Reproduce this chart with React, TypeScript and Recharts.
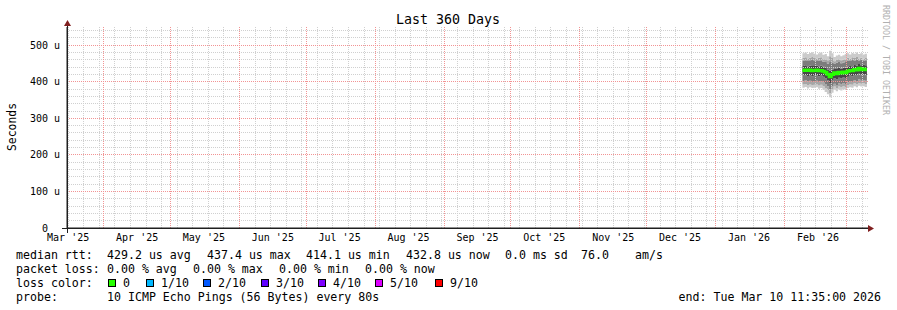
import React from 'react';
import { ComposedChart, Area, Line, XAxis, YAxis, ReferenceLine } from 'recharts';

// one point per day (stepAfter), last point only closes the final step
const days = [
  '2026-02-09', '2026-02-10', '2026-02-11', '2026-02-12', '2026-02-13', '2026-02-14',
  '2026-02-15', '2026-02-16', '2026-02-17', '2026-02-18', '2026-02-19', '2026-02-20',
  '2026-02-21', '2026-02-22', '2026-02-23', '2026-02-24', '2026-02-25', '2026-02-26',
  '2026-02-27', '2026-02-28', '2026-03-01', '2026-03-02', '2026-03-03', '2026-03-04',
  '2026-03-05', '2026-03-06', '2026-03-07', '2026-03-08', '2026-03-09', '2026-03-10',
];

// median rtt in microseconds
const median = [
  431, 432, 431, 432, 430, 431, 432, 430, 431, 429, 426, 421, 414.1, 420, 425,
  422, 426, 424, 427, 425, 429, 431, 430, 434, 432, 437.4, 433, 435, 432.8, 432.8,
];

// smoke band edges, outermost (min/max ping) to innermost
const lo1 = [384, 386, 382, 385, 383, 384, 385, 381, 383, 378, 372, 366, 358, 370, 378, 374, 379, 376, 380, 378, 383, 385, 384, 388, 385, 389, 387, 388, 386, 386];
const lo2 = [393, 394, 391, 393, 391, 392, 393, 390, 392, 388, 383, 377, 369, 379, 387, 383, 387, 385, 388, 386, 391, 393, 392, 396, 394, 397, 395, 396, 394, 394];
const lo3 = [402, 404, 401, 403, 400, 402, 403, 400, 402, 398, 394, 388, 380, 388, 395, 391, 396, 393, 397, 394, 399, 402, 400, 404, 402, 407, 403, 405, 403, 403];
const lo4 = [417, 418, 416, 418, 415, 417, 418, 415, 417, 414, 410, 404, 396, 404, 410, 407, 411, 409, 412, 410, 414, 417, 415, 419, 417, 422, 418, 420, 418, 418];
const hi4 = [443, 445, 442, 444, 443, 443, 444, 442, 444, 441, 438, 434, 430, 434, 437, 435, 438, 436, 439, 438, 442, 443, 442, 446, 444, 449, 445, 447, 445, 445];
const hi3 = [458, 459, 457, 459, 460, 458, 457, 458, 459, 455, 454, 450, 456, 453, 450, 452, 454, 451, 453, 456, 458, 457, 460, 458, 462, 458, 460, 457, 459, 459];
const hi2 = [466, 467, 464, 466, 468, 465, 463, 466, 467, 462, 462, 459, 470, 465, 456, 460, 462, 459, 461, 464, 466, 463, 467, 465, 468, 464, 466, 463, 465, 465];
const hi1 = [478, 480, 476, 479, 481, 477, 475, 478, 480, 474, 476, 470, 485, 478, 468, 472, 474, 470, 473, 476, 478, 475, 479, 477, 480, 476, 478, 475, 477, 477];

const monthLabels = ["Mar '25", "Apr '25", "May '25", "Jun '25", "Jul '25", "Aug '25", "Sep '25", "Oct '25", "Nov '25", "Dec '25", "Jan '26", "Feb '26"];
const monthLabelDays = ['2025-03-16', '2025-04-16', '2025-05-16', '2025-06-16', '2025-07-16', '2025-08-16', '2025-09-16', '2025-10-16', '2025-11-16', '2025-12-16', '2026-01-16', '2026-02-16'];
const monthStarts = ['2025-04-01', '2025-05-01', '2025-06-01', '2025-07-01', '2025-08-01', '2025-09-01', '2025-10-01', '2025-11-01', '2025-12-01', '2026-01-01', '2026-02-01', '2026-03-01'];
const yTicks = [0, 100, 200, 300, 400, 500];

const lossLabels = ['0', '1/10', '2/10', '3/10', '4/10', '5/10', '9/10'];
const lossColors = ['#26ff00', '#00b8ff', '#0059ff', '#5e00ff', '#7e00ff', '#dd00ff', '#ff0000'];

const ts = (d: string) => Date.parse(d + 'T00:00:00Z');
const START = Date.UTC(2025, 2, 15, 11, 35);
const END = Date.UTC(2026, 2, 10, 11, 35);
const DAY = 86400000;

// smoke is stacked like smokeping does it: invisible base, then one layer per band edge
const edges = [lo1, lo2, lo3, lo4, hi4, hi3, hi2, hi1];
const data = days.map((d, i) => {
  const row: Record<string, number> = { t: ts(d), median: median[i], s0: lo1[i] };
  for (let k = 1; k < edges.length; k++) row['s' + k] = edges[k][i] - edges[k - 1][i];
  return row;
});

const labelTicks = monthLabelDays.map(ts);
const labelFor = new Map(labelTicks.map((t, i) => [t, monthLabels[i]]));

// minor grid: one line a week (sundays)
const weekLines: number[] = [];
for (let t = Date.UTC(2025, 2, 16); t < END; t += 7 * DAY) weekLines.push(t);
const minorY: number[] = [];
for (let v = 20; v <= 540; v += 20) if (v % 100 !== 0) minorY.push(v);

const MONO = "'DejaVu Sans Mono', monospace";
const minorGrid = { stroke: '#d0d0d0', strokeDasharray: '1 1', shapeRendering: 'crispEdges' };
const majorGrid = { stroke: '#f29494', strokeDasharray: '1 1', shapeRendering: 'crispEdges' };
// colour of each stacked layer s1..s7 (outer light, centre dark)
const SMOKE = ['#cbcbcb', '#a6a6a6', '#7c7c7c', '#464646', '#7c7c7c', '#a6a6a6', '#cbcbcb'];

const XTick = (props: any) => {
  const { x, y, payload } = props;
  return (
    <text x={x} y={y} dy="0.71em" textAnchor="middle" fontFamily={MONO} fontSize={10} fill="#000">
      {labelFor.get(payload.value) ?? ''}
    </text>
  );
};

const YTick = (props: any) => {
  const { x, y, payload } = props;
  const v = payload.value;
  return (
    <text x={x} y={y} dy={3.5} dx={v === 0 ? -12 : 0} textAnchor="end" fontFamily={MONO} fontSize={10} fill="#000">
      {v === 0 ? '0' : `${v} u`}
    </text>
  );
};

const row1 = [
  [16, 'median rtt:'], [107, '429.2 us avg'], [207, '437.4 us max'], [306, '414.1 us min'],
  [406, '432.8 us now'], [505, '0.0 ms sd'], [581, '76.0'], [635, 'am/s'],
] as const;
const row2 = [
  [16, 'packet loss:'], [107, '0.00 % avg'], [193, '0.00 % max'], [279, '0.00 % min'], [365, '0.00 % now'],
] as const;
const lossX = [108, 146, 203, 261, 318, 375, 435];

export default function App() {
  return (
    <div style={{ position: 'absolute', left: 0, top: 0, width: 897, height: 310, background: '#fff' }}>
      <ComposedChart
        width={897}
        height={250}
        data={data}
        margin={{ top: 27, right: 29, left: 10, bottom: 2 }}
      >
        <XAxis
          dataKey="t"
          type="number"
          domain={[START, END]}
          ticks={labelTicks}
          interval={0}
          tick={<XTick />}
          tickLine={false}
          tickSize={4}
          tickMargin={2}
          axisLine={{ stroke: '#1f1f1f' }}
          height={20}
          allowDataOverflow
        />
        <YAxis
          type="number"
          domain={[0, 550]}
          ticks={yTicks}
          interval={0}
          tick={<YTick />}
          tickLine={false}
          tickSize={0}
          tickMargin={7}
          axisLine={{ stroke: '#1f1f1f' }}
          width={57}
          allowDataOverflow
        />
        <Area dataKey="s0" stackId="smoke" type="stepAfter" stroke="none" fill="none" isAnimationActive={false} />
        {SMOKE.map((c, k) => (
          <Area
            key={'s' + (k + 1)}
            dataKey={'s' + (k + 1)}
            stackId="smoke"
            type="stepAfter"
            stroke="none"
            fill={c}
            fillOpacity={1}
            isAnimationActive={false}
          />
        ))}
        {weekLines.map((t) => (
          <ReferenceLine key={'w' + t} x={t} {...minorGrid} />
        ))}
        {minorY.map((v) => (
          <ReferenceLine key={'y' + v} y={v} {...minorGrid} />
        ))}
        {monthStarts.map((d) => (
          <ReferenceLine key={'m' + d} x={ts(d)} {...majorGrid} />
        ))}
        {yTicks.filter((v) => v > 0).map((v) => (
          <ReferenceLine key={'Y' + v} y={v} {...majorGrid} />
        ))}
        <Line
          dataKey="median"
          type="stepAfter"
          stroke={lossColors[0]}
          strokeWidth={3}
          dot={false}
          isAnimationActive={false}
        />
      </ComposedChart>

      <svg width={897} height={310} style={{ position: 'absolute', left: 0, top: 0, pointerEvents: 'none' }}>
        <text x={448} y={23.5} textAnchor="middle" fontFamily={MONO} fontSize={13.3} fill="#000">
          Last 360 Days
        </text>
        <text transform="translate(15.5,127) rotate(-90)" textAnchor="middle" fontFamily={MONO} fontSize={11.4} fill="#000">
          Seconds
        </text>
        <text transform="translate(883,5) rotate(90)" fontFamily={MONO} fontSize={8.3} fill="#b0b0b0">
          RRDTOOL / TOBI OETIKER
        </text>
        {/* axis extensions and arrows */}
        <line x1={67.5} y1={22} x2={67.5} y2={233} stroke="#1f1f1f" />
        <line x1={62} y1={228.5} x2={870} y2={228.5} stroke="#1f1f1f" />
        <polygon points="64,26 71,26 67.5,20" fill="#801f1f" />
        <polygon points="868,225 868,232 874,228.5" fill="#801f1f" />

        <g fontFamily={MONO} fontSize={11.6} fill="#000">
          {row1.map(([x, s]) => (
            <text key={'r1' + x} x={x} y={259}>{s}</text>
          ))}
          {row2.map(([x, s]) => (
            <text key={'r2' + x} x={x} y={272.5}>{s}</text>
          ))}
          <text x={16} y={286.5}>loss color:</text>
          {lossLabels.map((s, i) => (
            <g key={'l' + s}>
              <rect x={lossX[i] + 0.5} y={279.5} width={7} height={7} fill={lossColors[i]} stroke="#000" />
              <text x={lossX[i] + 15} y={286.5}>{s}</text>
            </g>
          ))}
          <text x={16} y={300.5}>probe:</text>
          <text x={107} y={300.5}>10 ICMP Echo Pings (56 Bytes) every 80s</text>
          <text x={881} y={300.5} textAnchor="end">end: Tue Mar 10 11:35:00 2026</text>
        </g>
      </svg>
    </div>
  );
}
